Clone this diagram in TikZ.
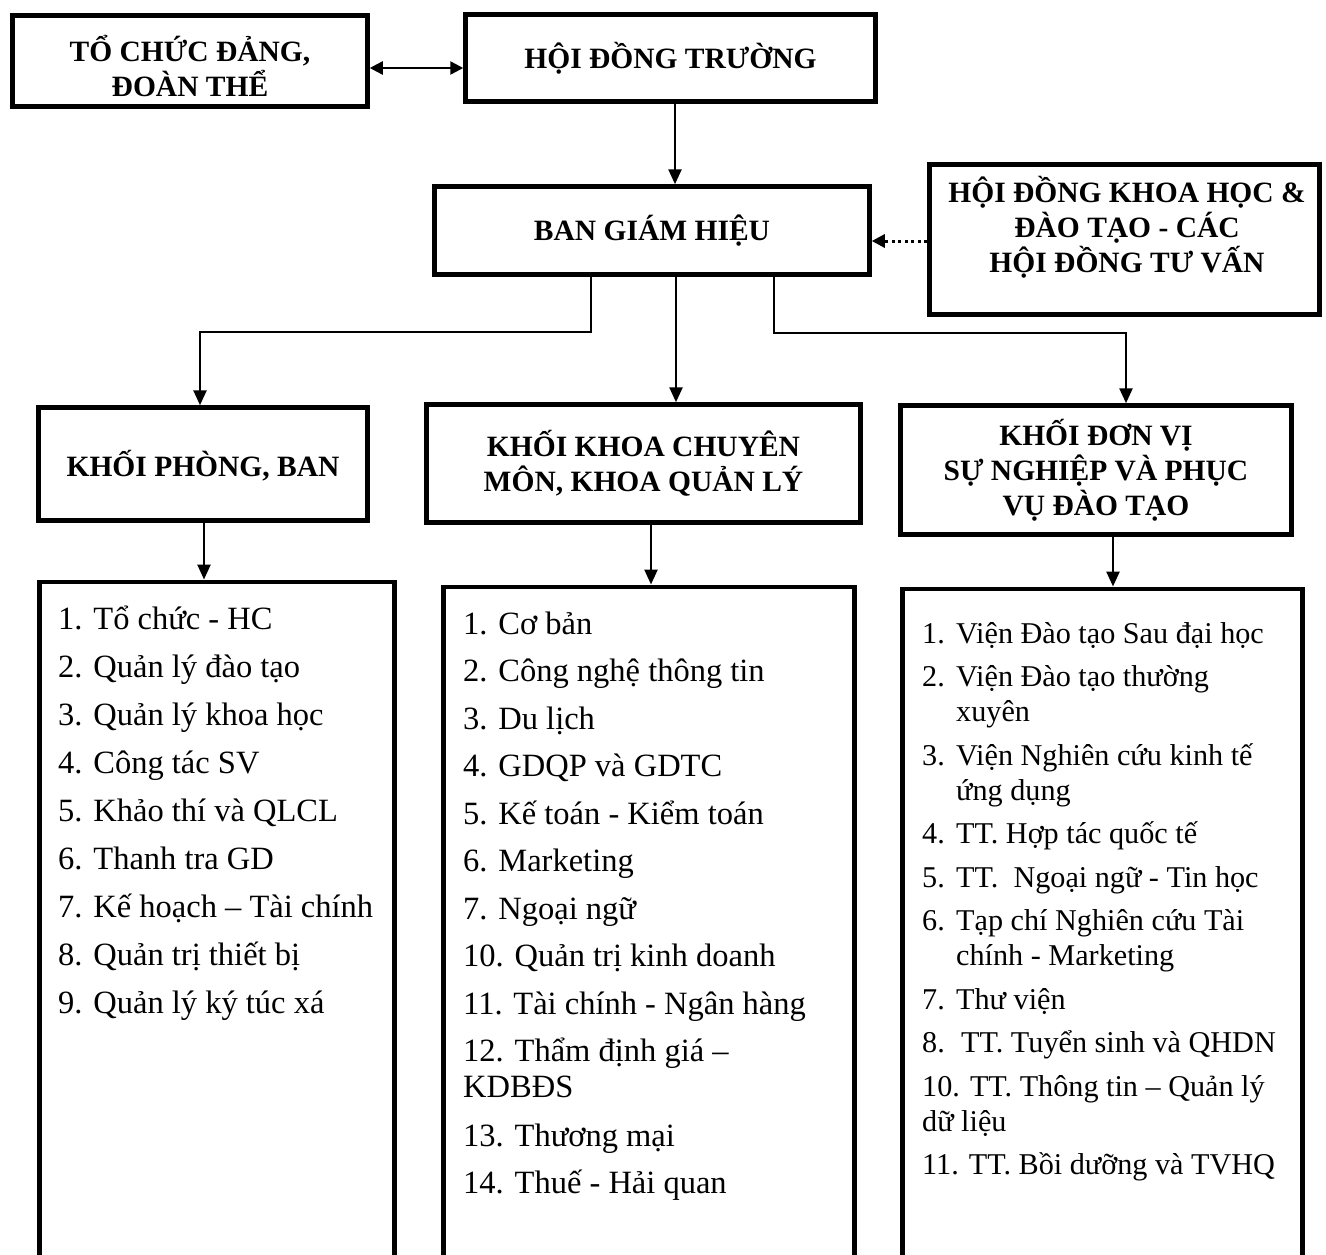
\documentclass[tikz,border=0pt]{standalone}
\usepackage{fontspec}
\setmainfont{Liberation Serif}
\usetikzlibrary{arrows.meta}
\newcommand{\hdrfont}{\fontsize{29.5}{35}\selectfont\bfseries}
\newcommand{\itemfont}{\fontsize{32.5}{36.5}\selectfont}
\newcommand{\unitfont}{\fontsize{30.2}{35}\selectfont}
\newcommand{\numbox}[1]{\makebox[34pt][l]{#1}}
\begin{document}
\begin{tikzpicture}[x=1pt,y=-1pt,
  box/.style={draw,line width=4.5pt,inner sep=0pt,align=center,font=\hdrfont},
  listbox/.style={draw,line width=4.5pt,inner sep=0pt,anchor=north,minimum height=800pt},
  entry/.style={anchor=base west,inner sep=0pt},
  conn/.style={line width=2.5pt,-{Triangle[width=13pt,length=15pt]}},
  both/.style={line width=2.5pt,{Triangle[width=13pt,length=13pt]}-{Triangle[width=13pt,length=13pt]}},
  advice/.style={line width=3pt,dash pattern=on 3pt off 3.5pt,-{Triangle[width=13pt,length=13pt]}}
]
\useasboundingbox (0,0) rectangle (1326,1254);
\fill[white] (0,0) rectangle (1326,1254);
\clip (0,0) rectangle (1326,1254);

% top level
\node[box,minimum width=355pt,minimum height=91pt] (A) at (190,61)
  {\rule{0pt}{37pt}TỔ CHỨC ĐẢNG,\\ ĐOÀN THỂ};
\node[box,minimum width=410pt,minimum height=87pt] (B) at (670.5,58)
  {HỘI ĐỒNG TRƯỜNG};
\node[box,minimum width=435pt,minimum height=88pt] (C) at (652,230.5)
  {BAN GIÁM HIỆU};
\node[box,minimum width=390pt,minimum height=150pt] (D) at (1124.5,239.5) {};
\node[align=center,font=\hdrfont,inner sep=0pt] (Dtext) at (1127,227)
  {HỘI ĐỒNG KHOA HỌC \&\\ ĐÀO TẠO - CÁC\\ HỘI ĐỒNG TƯ VẤN};

% three blocks
\node[box,minimum width=329pt,minimum height=113pt] (E) at (203,464)
  {\rule{0pt}{30pt}KHỐI PHÒNG, BAN};
\node[box,minimum width=434pt,minimum height=118pt] (F) at (643.5,463.5)
  {KHỐI KHOA CHUYÊN\\ MÔN, KHOA QUẢN LÝ};
\node[box,minimum width=391pt,minimum height=129pt] (G) at (1096,470)
  {KHỐI ĐƠN VỊ\\ SỰ NGHIỆP VÀ PHỤC\\ VỤ ĐÀO TẠO};

% list frames (open at the bottom of the page)
\node[listbox,minimum width=355pt] (L1) at (217,579.5) {};
\node[listbox,minimum width=411pt] (L2) at (649,584.5) {};
\node[listbox,minimum width=400pt] (L3) at (1102.5,586.5) {};

% connector positions
\coordinate (ab) at (0,68);
\coordinate (dc) at (0,241);
\coordinate (xbc) at (675,0);
\coordinate (bl) at (591,332);
\coordinate (bm) at (676,332);
\coordinate (br) at (774,333);
\coordinate (xe) at (200,0);
\coordinate (xg) at (1126,0);
\coordinate (x1) at (204,0);
\coordinate (x2) at (651,0);
\coordinate (x3) at (1113,0);

\draw[both] (A.east |- ab) -- (B.west |- ab);
\draw[conn] (B.south -| xbc) -- (C.north -| xbc);
\draw[advice] (D.west |- dc) -- (C.east |- dc);
\draw[conn] (C.south -| bl) -- (bl) -| (E.north -| xe);
\draw[conn] (C.south -| bm) -- (F.north -| bm);
\draw[conn] (C.south -| br) -- (br) -| (G.north -| xg);
\draw[conn] (E.south -| x1) -- (L1.north -| x1);
\draw[conn] (F.south -| x2) -- (L2.north -| x2);
\draw[conn] (G.south -| x3) -- (L3.north -| x3);

% offices
\foreach \t [count=\i] in {1. Tổ chức - HC, 2. Quản lý đào tạo, 3. Quản lý khoa học,
  4. Công tác SV, 5. Khảo thí và QLCL, 6. Thanh tra GD, 7. Kế hoạch – Tài chính,
  8. Quản trị thiết bị, 9. Quản lý ký túc xá}
  \node[entry,font=\itemfont] (p\i) at (58,{629+48*(\i-1)}) {\t};

% faculties
\begin{scope}[every node/.style={entry,font=\itemfont}]
\node (k1)  at (463,634)    {1. Cơ bản};
\node (k2)  at (463,681.5)  {2. Công nghệ thông tin};
\node (k3)  at (463,729)    {3. Du lịch};
\node (k4)  at (463,776.5)  {4. GDQP và GDTC};
\node (k5)  at (463,824)    {5. Kế toán - Kiểm toán};
\node (k6)  at (463,871.5)  {6. Marketing};
\node (k7)  at (463,919)    {7. Ngoại ngữ};
\node (k10) at (463,966.5)  {10. Quản trị kinh doanh};
\node (k11) at (463,1014)   {11. Tài chính - Ngân hàng};
\node (k12) at (463,1061.5) {12. Thẩm định giá –};
\node (k12b) at (463,1097.5) {KDBĐS};
\node (k13) at (463,1146)   {13. Thương mại};
\node (k14) at (463,1193.5) {14. Thuế - Hải quan};
\end{scope}

% service units
\begin{scope}[every node/.style={entry,font=\unitfont}]
\node (u1)  at (922,643)    {\numbox{1.}Viện Đào tạo Sau đại học};
\node (u2)  at (922,686.5)  {\numbox{2.}Viện Đào tạo thường};
\node (u2b) at (922,721.5)  {\numbox{}xuyên};
\node (u3)  at (922,765)    {\numbox{3.}Viện Nghiên cứu kinh tế};
\node (u3b) at (922,800)    {\numbox{}ứng dụng};
\node (u4)  at (922,843.5)  {\numbox{4.}TT. Hợp tác quốc tế};
\node (u5)  at (922,887)    {\numbox{5.}TT.\ \ Ngoại ngữ - Tin học};
\node (u6)  at (922,930.5)  {\numbox{6.}Tạp chí Nghiên cứu Tài};
\node (u6b) at (922,965.5)  {\numbox{}chính - Marketing};
\node (u7)  at (922,1009)   {\numbox{7.}Thư viện};
\node (u8)  at (922,1052.5) {\numbox{8.}\,TT. Tuyển sinh và QHDN};
\node (u10) at (922,1096)   {10. TT. Thông tin – Quản lý};
\node (u10b) at (922,1131)  {dữ liệu};
\node (u11) at (922,1174.5) {11. TT. Bồi dưỡng và TVHQ};
\end{scope}
\end{tikzpicture}
\end{document}
